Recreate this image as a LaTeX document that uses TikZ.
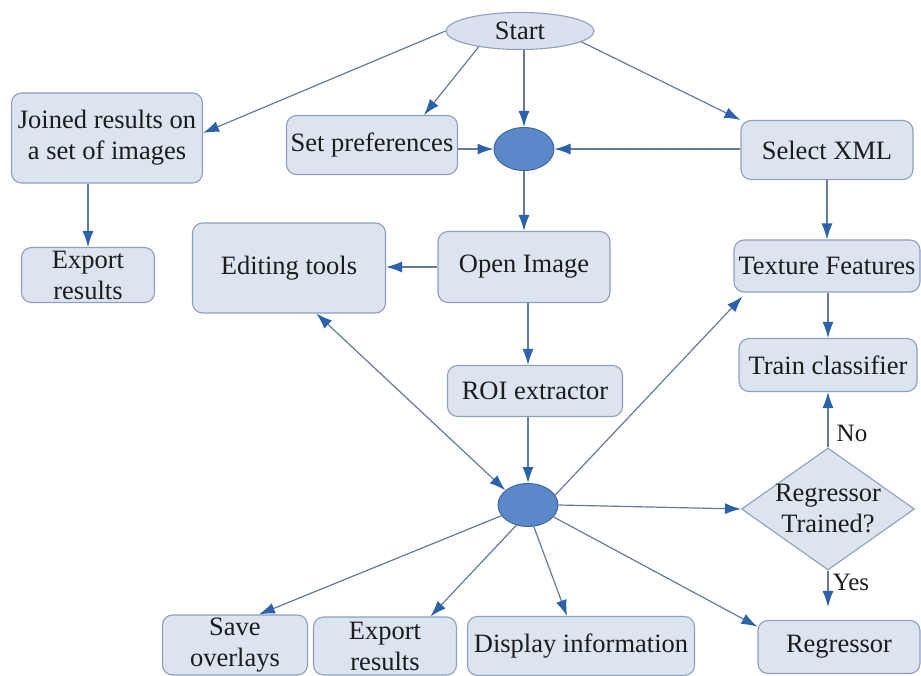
\documentclass[tikz,border=0pt]{standalone}
\usepackage{fontspec}
\setmainfont{Liberation Serif}
\usetikzlibrary{arrows.meta,shapes.geometric,calc}
\definecolor{boxfill}{HTML}{DCE4F0}
\definecolor{boxline}{HTML}{8EA0BD}
\definecolor{startfill}{HTML}{D9E1EE}
\definecolor{hubfill}{HTML}{5B88C9}
\definecolor{hubline}{HTML}{41699F}
\definecolor{edgecol}{HTML}{667B9A}
\definecolor{tipcol}{HTML}{2C62AA}
\definecolor{txt}{HTML}{1C1C1C}

\begin{document}
\begin{tikzpicture}[x=1pt,y=-1pt,
  every node/.style={font=\fontsize{26.5}{31}\selectfont, text=txt},
  box/.style={draw=boxline, fill=boxfill, rounded corners=10pt, line width=1.1pt,
              inner sep=0pt, align=center},
  sz/.style 2 args={minimum width=#1pt, minimum height=#2pt},
  hub/.style={ellipse, draw=hubline, fill=hubfill, line width=1pt,
              minimum width=60pt, minimum height=43pt, inner sep=0pt},
  tipshape/.style={Latex[length=16pt,width=11pt,color=tipcol]},
  flow/.style={draw=edgecol, line width=1.2pt, -{Latex[length=16pt,width=11pt,color=tipcol]}},
  twoway/.style={draw=edgecol, line width=1.2pt,
               {Latex[length=16pt,width=11pt,color=tipcol]}-{Latex[length=16pt,width=11pt,color=tipcol]}},
  tag/.style={font=\fontsize{25}{30}\selectfont, inner sep=0pt}
]
\fill[white] (0,0) rectangle (921,676);
\useasboundingbox (0,0) rectangle (921,676);

% nodes
\node[ellipse, draw=boxline, fill=startfill, line width=1.1pt, inner sep=0pt, sz={148}{37}]
  (start) at (520,31) {Start};
\node[box, sz={191}{90}] (joined) at (107,138) {Joined results on\\a set of images};
\node[box, sz={171}{59}] (setpref) at (372,145) {Set preferences};
\node[hub] (hub1) at (524,149) {};
\node[box, sz={172}{59}] (xml) at (827,150) {Select XML};
\node[box, sz={133}{55}] (exportL) at (88,275) {Export\\results};
\node[box, sz={193}{90}] (editing) at (289,268) {Editing tools};
\node[box, sz={172}{71}] (open) at (524,267) {Open Image};
\node[box, sz={186}{52}] (texture) at (827,266) {Texture Features};
\node[box, sz={178}{53}] (train) at (828,365) {Train classifier};
\node[box, sz={175}{51}] (roi) at (535,391) {ROI extractor};
\node[hub] (hub2) at (528,505) {};
\node[diamond, draw=boxline, fill=boxfill, line width=1.1pt, aspect=1.42, inner sep=-4pt,
      align=center, sz={173}{122}] (trained) at (828,509) {Regressor\\Trained?};
\node[box, sz={162}{53}] (regressor) at (839,647) {Regressor};
\node[box, sz={227}{59}] (display) at (581,646) {Display information};
\node[box, sz={145}{60}] (save) at (235,645) {Save\\overlays};
\node[box, sz={143}{58}] (exportB) at (385,646) {Export\\results};

% connectors from Start
\draw[flow] (start.west) -- (joined.3);
\draw[flow] (start.201) -- (setpref.30);
\draw[flow] (start.south -| hub1) -- (hub1.north);
\draw[flow] (start.-10) -- (xml.north west);

% into and out of the upper hub
\draw[flow] (setpref.east |- hub1) -- (hub1.west);
\draw[flow] (xml.west |- hub1) -- (hub1.east);
\draw[flow] (hub1.south) -- (open.north);

% left column
\draw[flow] (joined.south -| exportL) -- (exportL.north);
\draw[flow] (open.west) -- (open.west -| editing.east);

% right column
\draw[flow] (xml.south) -- (texture.north);
\draw[flow] (texture.south -| train) -- (train.north);

% centre column
\draw[flow] (open.south -| hub2.north) -- (roi.north -| hub2.north);
\draw[flow] (roi.south -| hub2.north) -- (hub2.north);

% lower hub
\draw[twoway] (editing.-59) -- (hub2.147);
\draw[flow] (hub2.20) -- ($(texture.south west)+(9,4)$);
\draw[flow] (hub2.east) -- (trained.west);
\draw[flow] (hub2.202) -- (save.52.5);
\draw[flow] (hub2.-120) -- (exportB.33);
\draw[flow] (hub2.-75) -- (display.115);
\draw[flow] (hub2.-25) -- (regressor.166);

% decision outcomes
\draw[flow] (trained.north) -- (train.south);
\draw[flow, shorten >=13pt] (trained.south) -- (trained.south |- regressor.north);
\node[tag] at (852,433) {No};
\node[tag] at (851,582) {Yes};
\end{tikzpicture}
\end{document}
